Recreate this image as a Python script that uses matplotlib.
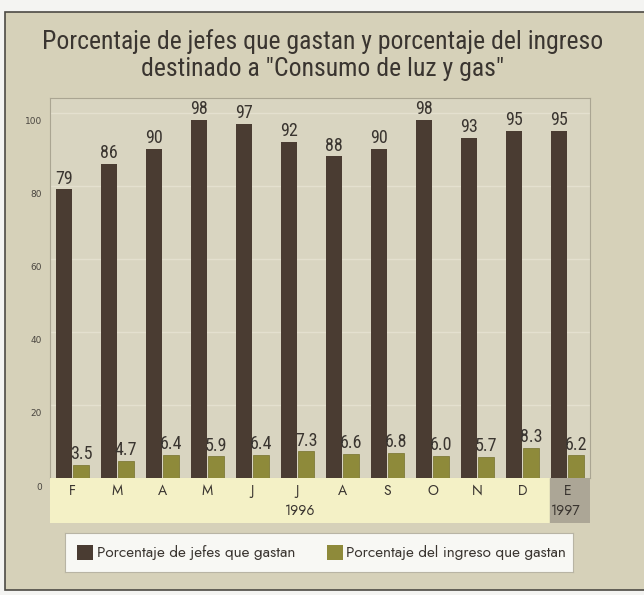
import matplotlib
matplotlib.use("Agg")
import matplotlib.pyplot as plt
import matplotlib.transforms as mtrans
from matplotlib.patches import Rectangle
import numpy as np

months = ["F", "M", "A", "M", "J", "J", "A", "S", "O", "N", "D", "E"]
jefes = [79, 86, 90, 98, 97, 92, 88, 90, 98, 93, 95, 95]
ingreso = [3.5, 4.7, 6.4, 5.9, 6.4, 7.3, 6.6, 6.8, 6.0, 5.7, 8.3, 6.2]
yticks = [0, 20, 40, 60, 80, 100]
legend_labels = ["Porcentaje de jefes que gastan", "Porcentaje del ingreso que gastan"]
title = 'Porcentaje de jefes que gastan y porcentaje del ingreso\ndestinado a "Consumo de luz y gas"'

NARROW = dict(family=["Roboto Condensed", "DejaVu Sans"], stretch="condensed")
GEO = dict(family=["Jost", "DejaVu Sans"], stretch="condensed")
BG = "#d6d1b9"
DARK = "#4a3c32"
OLIVE = "#8e8a3a"
INK = "#3a3530"

W, H = 644, 595
fig = plt.figure(figsize=(W / 100, H / 100), dpi=100)
fig.patch.set_facecolor("#f4f4f2")

# scanned page frame
fig.patches.append(Rectangle((5 / W, 5 / H), 1.0, (590 - 12) / H, transform=fig.transFigure,
                             facecolor=BG, edgecolor="#4d4a44", linewidth=1.2, zorder=-1))

fig.text(323 / W, 1 - 55 / H, title, ha="center", va="center", fontsize=18.5,
         color=INK, linespacing=1.2, **NARROW)

ax = fig.add_axes([50 / W, 117 / H, 540 / W, 380 / H])
ax.set_facecolor("#d9d5c1")
x = np.arange(len(months))
ax.bar(x - 0.19, jefes, width=0.36, color=DARK, zorder=3)
ax.bar(x + 0.19, ingreso, width=0.36, color=OLIVE, edgecolor="#75702c", linewidth=0.5, zorder=3)
ax.set_xlim(-0.5, len(months) - 0.5)
ax.set_ylim(0, 104)
ax.set_xticks([])
ax.set_yticks(yticks)
ax.tick_params(axis="y", length=0, labelleft=False)
ax.grid(axis="y", color="#e4e0cf", linewidth=1.0, zorder=1)
for s in ax.spines.values():
    s.set_color("#aaa592")
    s.set_linewidth(0.8)

# tick labels sit a little below their gridline
off = mtrans.ScaledTranslation(0, -0.09, fig.dpi_scale_trans)
for v in yticks:
    ax.text(-0.015, v, str(v), transform=ax.get_yaxis_transform() + off, ha="right", va="center",
            fontsize=6.5, color="#4a4640", family="DejaVu Sans")

for xi, v in zip(x, jefes):
    ax.text(xi - 0.19, v + 0.5, str(v), ha="center", va="bottom", fontsize=13,
            color=INK, zorder=4, **NARROW)
for xi, v in zip(x, ingreso):
    ax.text(xi + 0.19, v + 0.5, f"{v:.1f}", ha="center", va="bottom", fontsize=13,
            color=INK, zorder=4, **NARROW)

# month band under the bars
band = fig.add_axes([50 / W, 72 / H, 540 / W, 45 / H])
band.set_xlim(-0.5, len(months) - 0.5)
band.set_ylim(0, 1)
band.axvspan(-0.5, len(months) - 1.4, color="#f4f1c6", zorder=0)
band.axvspan(len(months) - 1.4, len(months) - 0.5, color="#aca696", zorder=0)
band.axis("off")
for xi, m in zip(x, months):
    band.text(xi, 0.72, m, ha="center", va="center", fontsize=10, color=INK, **GEO)
band.text((len(months) - 1.4 - 0.5) / 2, 0.27, "1996", ha="center", va="center", fontsize=10,
          color=INK, **GEO)
band.text(len(months) - 1 - 0.05, 0.27, "1997", ha="center", va="center", fontsize=10,
          color=INK, **GEO)

# legend box
lg = fig.add_axes([65 / W, 23 / H, 508 / W, 39 / H])
lg.set_xlim(0, 508)
lg.set_ylim(0, 39)
lg.set_facecolor("#f8f8f4")
for s in lg.spines.values():
    s.set_color("#b8b4a4")
lg.set_xticks([])
lg.set_yticks([])
lg.add_patch(Rectangle((12, 12), 16, 15, facecolor=DARK, edgecolor="none"))
lg.text(32, 19.5, legend_labels[0], ha="left", va="center", fontsize=11, color=INK, **GEO)
lg.add_patch(Rectangle((262, 12), 16, 15, facecolor=OLIVE, edgecolor="none"))
lg.text(281, 19.5, legend_labels[1], ha="left", va="center", fontsize=11, color=INK, **GEO)

fig.savefig("out.png", dpi=100, facecolor=fig.get_facecolor())
